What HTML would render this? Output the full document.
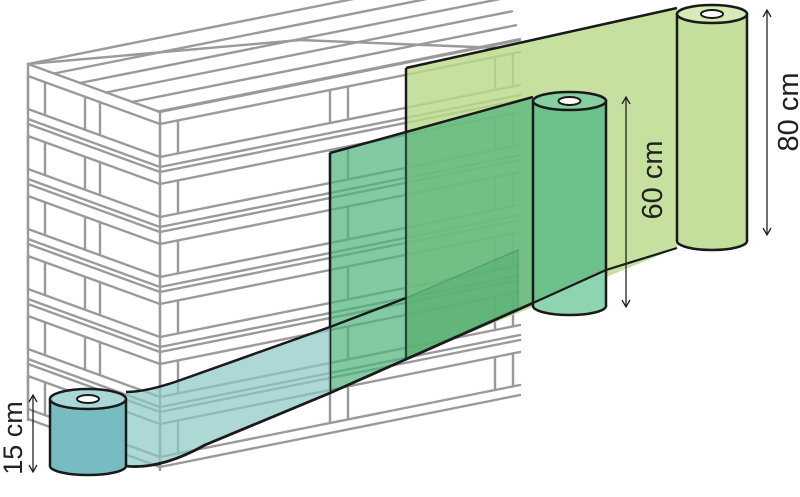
<!DOCTYPE html>
<html><head><meta charset="utf-8"><style>
html,body{margin:0;padding:0;background:#fff;width:800px;height:497px;overflow:hidden}
svg{display:block}
text{font-family:"Liberation Sans",sans-serif;fill:#222}
</style></head><body>
<svg id="s" width="800" height="497" viewBox="0 0 800 497" xmlns="http://www.w3.org/2000/svg">
<g id="pal" stroke="#9a9a9a" stroke-width="2.4" fill="none" stroke-linecap="round"></g>

<!-- 80cm sheet -->
<polygon points="406,68 677,8 677,248 406,359" fill="#b9da8a" fill-opacity="0.82"/>
<line x1="406" y1="68" x2="677" y2="8" stroke="#1a1a1a" stroke-width="2.5"/>
<line x1="406" y1="68" x2="406" y2="359" stroke="#1a1a1a" stroke-width="2.5"/>
<!-- 80cm roll -->
<ellipse cx="712" cy="241" rx="35" ry="9" fill="#c3df9b" stroke="#1a1a1a" stroke-width="2.5"/>
<rect x="677" y="13" width="70" height="228" fill="#c3df9b"/>
<line x1="677" y1="13" x2="677" y2="241" stroke="#1a1a1a" stroke-width="2.5"/>
<line x1="747" y1="13" x2="747" y2="241" stroke="#1a1a1a" stroke-width="2.5"/>
<ellipse cx="712" cy="14" rx="35" ry="9" fill="#d6ebb7" stroke="#1a1a1a" stroke-width="2.5"/>
<ellipse cx="712" cy="14" rx="11" ry="4" fill="#fff" stroke="#1a1a1a" stroke-width="2"/>

<!-- 60cm sheet -->
<polygon points="330,153 533,97 533,303 330,393" fill="#4fb27a" fill-opacity="0.7"/>
<polygon points="406,298 518,250 518,308 406,358" fill="#3f9d68" fill-opacity="0.3" stroke="#3f8f60" stroke-opacity="0.5" stroke-width="1.5"/>
<line x1="330" y1="153" x2="533" y2="97" stroke="#1a1a1a" stroke-width="2.5"/>
<line x1="330" y1="153" x2="330" y2="393" stroke="#1a1a1a" stroke-width="2.5"/>
<line x1="406" y1="68" x2="406" y2="359" stroke="#1a1a1a" stroke-width="2" opacity="0.6"/>
<!-- 60cm roll -->
<ellipse cx="569.5" cy="306" rx="36.5" ry="9" fill="#8fd4b0" stroke="#1a1a1a" stroke-width="2.5"/>
<rect x="533" y="100" width="73" height="206" fill="#6cc08a"/>
<polygon points="533,303 606,270 606,306 533,306" fill="#8fd4b0"/>
<line x1="533" y1="100" x2="533" y2="306" stroke="#1a1a1a" stroke-width="2.5"/>
<line x1="606" y1="100" x2="606" y2="306" stroke="#1a1a1a" stroke-width="2.5"/>
<line x1="533" y1="303" x2="606" y2="270" stroke="#1a1a1a" stroke-width="2.2"/>
<line x1="606" y1="270" x2="677" y2="248" stroke="#1a1a1a" stroke-width="2.2"/>
<ellipse cx="569.5" cy="101" rx="36.5" ry="9" fill="#86cfa0" stroke="#1a1a1a" stroke-width="2.5"/>
<ellipse cx="569.5" cy="101" rx="11" ry="4" fill="#fff" stroke="#1a1a1a" stroke-width="2"/>

<!-- 15cm strip -->
<path d="M330,327 L175,382 Q145,392 126,392 L126,466 Q160,470 205,445 L330,393 Z" fill="#8cc7c4" fill-opacity="0.7"/>
<path d="M406,298 L330,327 L175,382 Q145,392 126,392" fill="none" stroke="#1a1a1a" stroke-width="2.5"/>
<path d="M126,466 Q160,470 205,445 L330,393 L533,303" fill="none" stroke="#1a1a1a" stroke-width="2.8"/>
<!-- 15cm roll -->
<ellipse cx="88" cy="466" rx="38" ry="9" fill="#76bcc0" stroke="#1a1a1a" stroke-width="2.5"/>
<rect x="50" y="399" width="76" height="67" fill="#76bcc0"/>
<line x1="50" y1="399" x2="50" y2="466" stroke="#1a1a1a" stroke-width="2.5"/>
<line x1="126" y1="399" x2="126" y2="466" stroke="#1a1a1a" stroke-width="2.5"/>
<ellipse cx="88" cy="399" rx="38" ry="10" fill="#a9d8d8" stroke="#1a1a1a" stroke-width="2.5"/>
<ellipse cx="88" cy="399" rx="11" ry="4" fill="#fff" stroke="#1a1a1a" stroke-width="2"/>

<!-- dimension arrows -->
<g stroke="#222" stroke-width="1.3" fill="none">
<line x1="767" y1="10" x2="767" y2="235"/><polyline points="763,17 767,10 771,17"/><polyline points="763,228 767,235 771,228"/>
<line x1="626" y1="97" x2="626" y2="307"/><polyline points="622,104 626,97 630,104"/><polyline points="622,300 626,307 630,300"/>
<line x1="33" y1="395" x2="33" y2="472"/><polyline points="29,402 33,395 37,402"/><polyline points="29,465 33,472 37,465"/>
</g>
<text transform="translate(798,112) rotate(-90)" font-size="29" text-anchor="middle">80 cm</text>
<text transform="translate(662,180) rotate(-90)" font-size="29" text-anchor="middle">60 cm</text>
<text transform="translate(22,438) rotate(-90)" font-size="27" text-anchor="middle">15 cm</text>
</svg>
<script>
(function(){
var g=document.getElementById('pal'),ns='http://www.w3.org/2000/svg';
function L(a,b,c,d){var l=document.createElementNS(ns,'line');l.setAttribute('x1',a);l.setAttribute('y1',b);l.setAttribute('x2',c);l.setAttribute('y2',d);g.appendChild(l);}
function fy(x,y0){return y0-0.2*(x-160);}
var X1=520;
for(var j=0;j<6;j++){var x=28+j*26,y=64+j*9.5;L(x,y,X1-20+j*4,fy(X1-20+j*4,y+0.2*(x-160)));}
L(28,64,300,40);L(300,40,500,48);
for(var k=0;k<6;k++){
 var t=112+60*k;
 if(t>470)break;
 var offs=[0,12,45,55];
 for(var o=0;o<offs.length;o++){
  var yy=t+offs[o]; if(yy>472)continue;
  L(160,yy,X1,fy(X1,yy));
  L(28,yy-48,160,yy);
 }
 var bx=[160,178,330,348,495,513];
 for(var b=0;b<bx.length;b++){L(bx[b],fy(bx[b],t+12),bx[b],fy(bx[b],t+45));}
 var lx=[28,45,85,100];
 for(var b=0;b<lx.length;b++){var yb=t-48+(lx[b]-28)*0.36;L(lx[b],yb+12,lx[b],yb+45);}
}
L(28,64,28,420);L(160,112,160,470);
})();
</script>
</body></html>
